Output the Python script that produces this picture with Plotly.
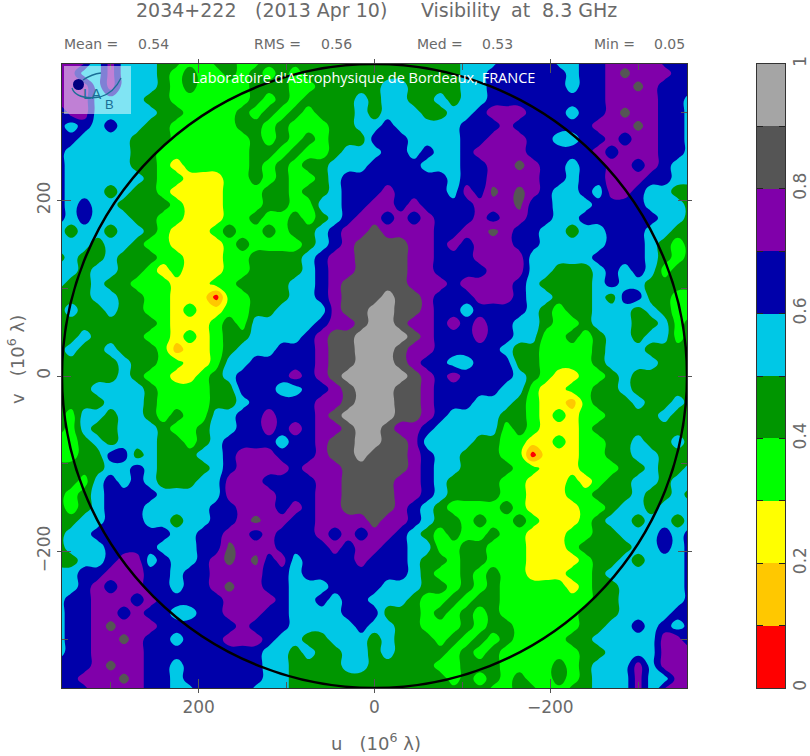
import plotly.graph_objects as go

# Band position at each grid node (0: 0-0.1, 1: 0.1-0.2, ... 9: 0.9-1).
# Rows run from v=+360 down to v=0, columns from u=+360 to u=-360.
grid_u = [360, 345, 330, 315, 300, 285, 270, 255, 240, 225, 210, 195, 180, 165, 150, 135, 120, 105, 90, 75, 60, 45, 30, 15, 0,
          -15, -30, -45, -60, -75, -90, -105, -120, -135, -150, -165, -180, -195, -210, -225, -240, -255, -270, -285, -300, -315, -330, -345, -360]
grid_v = list(grid_u)
vis_bands_upper = [
 [6,7,7,5,7,5,5,5,4,4,3,3,4,4,3,3,4,4,4,4,4,4,4,4,4, 4,4,4,4,4,4,5,5,5,6,6,6,6,5,5,6,6,7,7,7,7,6,6,6],
 [7,7,5,5,7,5,5,5,4,3,4,3,3,4,3,4,3,4,3,4,4,4,4,4,4, 4,4,4,4,4,4,5,5,6,6,6,6,6,6,5,6,6,7,7.8,7,7,7,6,6],
 [7,7,7,5,7,5,5,5,4,3,4,3,3,3,3,4,4,4,3,3,4,4,4,4,4, 5,5,4,4,4,4,5,5,6,6,6,6,6,6,5,6,6,7,7,7.8,7,6,6,6],
 [7,7,7,5,5,5,5,4,4,3,3,3,3,3,3,4,3,4,3,4,4,4,4,5,4, 5,5,4,4,5,4,5,5,6,6,6,6,6,6,6,6,6,7,7,7,7,6,6,5],
 [5,7,7,5,5,5,5,5,4,4,3,3,3,3,4,3,4,3,4,3,4,4,4,5,4, 5,5,5,4,4,5,5,6,7,7,7,6,6,6,5,6,6,7,7.8,7,7,6,6,5],
 [6,5,6,5,6,5,5,4,4,3,3,3,3,3,4,4,3,4,3,3,3,4,4,5,5, 6,5,5,5,5,5,6,6,6,7,6,6,6,6,6,6,7,7,7,7.8,7,6,6,5],
 [6,6,5,5,5,5,4,4,4,3,3,3,3,3,3,4,3,4,3,4,3,4,4,4,6, 6,6,5,5,5,5,6,6,7,7,7,6,6,5,5,6,6,7,6,7,7,6,6,5],
 [6,5,5,5,5,5,4,4,3,3,3,2.8,3,3,3,4,4,3,4,3,3,4,5,5,5, 6,6,5,6,5,5,6,7,7,7,7,6,6,6,6,6,7,6,7,7,7,6,6,5],
 [6,5,5,5,5,5,4,4,3,2,3,3,3,3,3,4,3,4,3,4,4,5,5,5,6, 6,6,6,5,5,5,6,6,7,7,7.8,7,6,6,5,6,6,7,7,6,7,6,5,5],
 [6,5,5,5,5,5,5,4,3,3,2,2,2,3,3,4,3,4,3,3,4,5,6,6,6, 6,6,6,6,6,5,6,6,7,7,7,7,6,6,5,6,6,7,7,7,6,6,5,5],
 [6,5,5,5,4,5,4,4,3,2,2,2,2,3,3,3,4,4,3,4,4,5,6,6,6, 7,6,6,6,6,5,7,6,7.8,7,7.8,7,6,5,5,6,5,7,7,6,5,5,4,4],
 [6,5,6,5,5,4,4,4,4,3,2,2,2,3,3,3,4,4,3,3,5,5,6,6,7, 7,6,7,6,6,6,6,7,7,7,7.8,6,6,5,5,5,6,6,6,6,5,5,5,4],
 [6,5,6,5,5,5,4,4,3,3,2,2,2,3,3,4,3,3,4,3,4,5,6,7,7, 6,7,6,7,6,6,6,7,6,7,7,6,6,5,5,6,6,6,6,6,6,5,5,4],
 [5,4,5,5,4,5,5,4,3,2,2,2,3,4,3,3,4,3,4,4,5,6,7,7,8, 7,7,7,7,6,6,7,7,7.8,7,6,6,5,5,4,5,5,6,6,6,5,5,4,4],
 [5,5,5,4,5,5,4,3,3,2,2,2,2,3,4,3,3,3,3,4,5,6,7,8,8, 8,8,7,7,6,7,6,7,7,7,6,6,5,5,5,5,5,6,6,6,5,4,3,4],
 [4,5,4,4,5,4,4,4,3,3,2,2,2,3,3,4,4,4,4,5,6,7,7,8,8, 8,8,7,7,6,6,6,7,7,7,7,5,5,5,5,5,6,6,6,6,5,4,3,4],
 [5,5,4,5,5,4,4,3,2,3,1.8,2,2,3,3,4,4,4,4,5,6,7,7,8,8, 8,8,7,7,6,6,6,6,7,7,7,5,5,4,4,4,5,6,5,6,5,3,4,4],
 [5,4,4,5,4,4,3,3,3,2,2,2,3,3,4,4,4,4,5,5,6,7,8,8,8, 8,8,7,7,7,6,7,7,7,7,6,5,4,4,4,4,5,6,5,5,4,4,4,4],
 [4,4,4,5,5,4,4,3,3,2,2,2,0,3,3,4,4,4,5,5,6,7,8,8,8, 9,8,8,7,6,6,6,7,7,7,6,5,5,4,4,4,5,4,6,6,4,4,3,3],
 [4,5,4,4,5,4,4,3,3,2,3,2,2,3,3,4,4,5,5,5,5,7,8,8,9, 9,8,8,7,6,6,5,6,6,6,6,5,4,3,4,4,5,5,5,4,5,4,3,3],
 [4,4,4,4,4,4,4,4,3,2,2,2,3,4,3,5,5,5,5,5,6,7,7,8,9, 9,8,7,7,6,7,6,7,6,6,5,5,4,3,3,4,5,5,5,4,4,5,3,4],
 [4,4,5,4,4,4,4,3,3,2,3,2,3,4,4,5,5,5,5,6,7,8,8,9,9, 9,9,8,7,6,6,6,7,6,6,5,5,3,3,4,3,4,5,5,4,5,5,3,4],
 [4,5,4,4,5,4,4,4,3,1,2,2,3,4,5,5,5,6,6,6,7,8,8,9,9, 9,8,7,7,6,6,6,6,6,5,4,4,3,3,3,3,4,5,5,5,4,4,4,4],
 [4,4,4,4,4,5,4,4,3,3,2,2,3,5,5,6,6,6,6,6,7,8,8,9,9, 9,8,7,6,6,5,5,6,6,6,4,4,3,3,3,3,4,5,5,5,5,4,4,4],
 [4,4,4,4,4,5,4,3,3,2,2,3,4,5,6,6,6,6,7,6,7,8,9,9,9, 9,9,8,7,6,7,6,6,6,6,5,4,3,2,2,3,3,4,5,4,4,4,4,4],
]
band_edges = [0, .1, .2, .3, .4, .5, .6, .7, .8, .9, 1]
band_mids = [.05, .15, .25, .35, .45, .55, .65, .75, .85, .95]
band_colors = ["#ff0000", "#ffc800", "#ffff00", "#00ff00", "#009600",
               "#00c8e6", "#0000aa", "#8000aa", "#555555", "#a5a5a5"]
cbar_ticks = [0, .1, .2, .3, .4, .5, .6, .7, .8, .9, 1]
cbar_labels = ["0", "", "0.2", "", "0.4", "", "0.6", "", "0.8", "", "1"]
title_parts = [("2034+222", 135), ("(2013 Apr 10)", 254), ("Visibility", 420), ("at", 510), ("8.3 GHz", 541)]
stat_parts = [("Mean =", 63, "0.54", 137), ("RMS =", 253, "0.56", 320), ("Med =", 416, "0.53", 481), ("Min =", 593, "0.05", 653)]
uv_limit = 355.5

# the visibility map is point-symmetric about the origin, so the lower half repeats the upper half
vis_bands = vis_bands_upper + [r[::-1] for r in vis_bands_upper[-2::-1]]
z = [[(b + .5) / 10 for b in r] for r in vis_bands]

colorscale = []
for i, c in enumerate(band_colors):
    colorscale += [[band_edges[i], c], [band_edges[i + 1], c]]

GRAY = "#6a6a6a"
FONT = "DejaVu Sans"
L, T, W, H = 62, 64, 748, 624
PLOT_W = 625
px = lambda x: (x - L) / W
py = lambda y: 1 - (y - T) / H

fig = go.Figure()
fig.add_trace(go.Contour(
    x=grid_u, y=grid_v, z=z, zmin=0, zmax=1, autocontour=False,
    contours=dict(start=.1, end=.9, size=.1, coloring="fill", showlines=False),
    line=dict(width=0, smoothing=1.3), colorscale=colorscale, hoverinfo="skip", showscale=False))
# carries the inner tick marks of the frame
fig.add_trace(go.Scatter(x=[0], y=[0], xaxis="x2", yaxis="y2", mode="markers",
                         marker=dict(opacity=0), hoverinfo="skip", showlegend=False))
# colour bar, drawn as its own narrow panel
fig.add_trace(go.Heatmap(x=[0], y=band_mids, z=[[m] for m in band_mids], xaxis="x3", yaxis="y3",
                         zmin=0, zmax=1, colorscale=colorscale, showscale=False, hoverinfo="skip"))

major = [200, 0, -200]
axis_common = dict(tickvals=major, showgrid=False, zeroline=False, showline=True,
                   linecolor="#333", linewidth=1, mirror="ticks", ticks="outside",
                   ticklen=4, tickcolor="#555", tickwidth=1,
                   tickfont=dict(family=FONT, size=17, color=GRAY), ticktext=["200", "0", "\u2212200"])
inner_common = dict(tickvals=major, showgrid=False, zeroline=False, showline=False,
                    mirror="ticks", ticks="inside", ticklen=9, tickcolor="#555", tickwidth=1, showticklabels=False,
                    minor=dict(ticks="inside", tickvals=[300, 100, -100, -300], ticklen=6, tickcolor="#555", tickwidth=1))
dom = [0, PLOT_W / W]
fig.update_layout(
    width=810, height=756, margin=dict(l=L, r=810 - L - W, t=T, b=756 - T - H),
    paper_bgcolor="white", plot_bgcolor="white", showlegend=False,
    xaxis=dict(range=[uv_limit, -uv_limit], domain=dom, **axis_common),
    yaxis=dict(range=[-uv_limit, uv_limit], tickangle=-90, **axis_common),
    xaxis2=dict(range=[uv_limit, -uv_limit], domain=dom, overlaying="x", anchor="y2", **inner_common),
    yaxis2=dict(range=[-uv_limit, uv_limit], overlaying="y", anchor="x2", **inner_common),
    xaxis3=dict(domain=[px(757), px(785)], anchor="y3", showticklabels=False, ticks="", showgrid=False,
                zeroline=False, showline=True, linecolor="#333", mirror=True, range=[-.5, .5]),
    yaxis3=dict(domain=[0, 1], anchor="x3", side="right", range=[0, 1], tickmode="array",
                tickvals=cbar_ticks, ticktext=cbar_labels, ticks="inside", ticklen=6, tickcolor="#222",
                tickangle=-90, showgrid=False, zeroline=False, showline=True, linecolor="#333", mirror="ticks",
                tickfont=dict(family=FONT, size=17, color=GRAY)),
)

# circle, and logo plate
shapes = [
    dict(type="circle", xref="x", yref="y", x0=uv_limit, x1=-uv_limit, y0=-uv_limit, y1=uv_limit,
         line=dict(color="black", width=2.5)),
    dict(type="rect", xref="paper", yref="paper", x0=px(64), x1=px(131), y0=py(66), y1=py(114),
         fillcolor="rgba(255,255,255,0.5)", line=dict(width=0)),
    dict(type="circle", xref="paper", yref="paper", x0=px(73), x1=px(84), y0=py(79), y1=py(90),
         fillcolor="#000080", line=dict(width=0)),
    dict(type="path", xref="paper", yref="paper",
         path=f"M {px(83)} {py(80)} Q {px(92)} {py(74)} {px(101)} {py(73)}",
         line=dict(color="#1a6e96", width=1.3)),
    dict(type="path", xref="paper", yref="paper",
         path=f"M {px(72)} {py(88)} Q {px(76)} {py(100)} {px(100)} {py(97)} Q {px(114)} {py(93)} {px(121)} {py(78)}",
         line=dict(color="#1a6e96", width=1.3)),
]
fig.update_layout(shapes=shapes)

ann = []
def text(s, x, y, size, color=GRAY, family=FONT, anchor="left", angle=0):
    ann.append(dict(text=s, x=px(x), y=py(y), xref="paper", yref="paper", showarrow=False,
                    xanchor=anchor, yanchor="middle", textangle=angle, borderpad=0,
                    font=dict(family=family, size=size, color=color)))
for s, x in title_parts:
    text(s, x, 10, 19)
for a, xa, b, xb in stat_parts:
    text(a, xa, 44, 14)
    text(b, xb, 44, 14)
text("Laboratoire d'Astrophysique de Bordeaux, FRANCE", 191, 77, 14.5, color="white", family="Open Sans")
text("u\u00a0\u00a0\u00a0(10<sup>6</sup>\u00a0\u03bb)", 376, 742, 18, anchor="center")
text("v\u00a0\u00a0\u00a0(10<sup>6</sup>\u00a0\u03bb)", 16, 360, 18, anchor="center", angle=-90)
text("LA", 92, 93, 15, color="#1a6e96", family="Liberation Sans", anchor="center")
text("B", 109, 104, 13, color="#1a6e96", family="Liberation Sans", anchor="center")
fig.update_layout(annotations=ann)

fig.write_html("out.html", config={"displayModeBar": False}, post_script="document.body.style.margin='0';")
